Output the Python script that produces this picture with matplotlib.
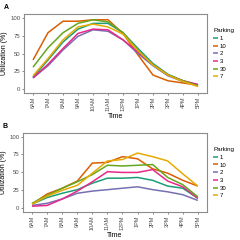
import matplotlib
matplotlib.use("Agg")
import matplotlib.pyplot as plt

times = ["6AM", "7AM", "8AM", "9AM", "10AM", "11AM", "12PM", "1PM", "2PM", "3PM", "4PM", "5PM"]
parkings = ["1", "10", "2", "3", "30", "7"]
colors = {"1": "#1B9E77", "10": "#D95F02", "2": "#7570B3", "3": "#E7298A", "30": "#66A61E", "7": "#E6AB02"}

# Panel A
a_1 = [17, 41, 66, 84, 92, 92, 79, 57, 36, 21, 12, 6]
a_10 = [41, 79, 95, 95, 97, 97, 78, 48, 20, 12, 9, 6]
a_2 = [16, 33, 55, 74, 83, 81, 69, 50, 33, 19, 11, 6]
a_3 = [16, 35, 57, 78, 84, 83, 69, 52, 34, 20, 12, 7]
a_30 = [31, 58, 79, 92, 97, 94, 79, 54, 34, 20, 12, 5]
a_7 = [19, 43, 69, 87, 91, 87, 77, 54, 34, 20, 11, 4]

# Panel B
b_1 = [6, 15, 21, 26, 35, 42, 42, 43, 39, 31, 28, 14]
b_10 = [6, 20, 28, 38, 63, 64, 72, 69, 55, 49, 39, 31]
b_2 = [4, 7, 13, 21, 24, 26, 28, 30, 26, 23, 19, 11]
b_3 = [3, 4, 13, 24, 37, 51, 50, 50, 54, 38, 30, 14]
b_30 = [7, 18, 28, 37, 47, 60, 59, 60, 61, 43, 33, 16]
b_7 = [6, 17, 25, 32, 49, 66, 68, 77, 72, 66, 48, 31]

panel_a = {"1": a_1, "10": a_10, "2": a_2, "3": a_3, "30": a_30, "7": a_7}
panel_b = {"1": b_1, "10": b_10, "2": b_2, "3": b_3, "30": b_30, "7": b_7}

plt.rcParams["font.family"] = ["Liberation Sans", "DejaVu Sans"]

fig = plt.figure(figsize=(2.4, 2.4), dpi=100)
fig.patch.set_facecolor("white")

def draw(ax, data, label, leg_y):
    x = list(range(len(times)))
    handles = []
    for p in parkings:
        h, = ax.plot(x, data[p], color=colors[p], lw=1.1, solid_capstyle="butt")
        handles.append(h)
    ax.set_xlim(-0.6, len(times) - 1 + 0.6)
    ax.set_ylim(-5, 105)
    ax.set_xticks(x)
    ax.set_xticklabels(times, rotation=90, fontsize=4, color="#4D4D4D")
    ax.set_yticks([0, 25, 50, 75, 100])
    ax.set_yticklabels(["0", "25", "50", "75", "100"], fontsize=4.3, color="#4D4D4D")
    ax.tick_params(length=1.5, width=0.4, color="#333333", pad=1.2)
    for s in ax.spines.values():
        s.set_color("#8C8C8C")
        s.set_linewidth(0.8)
    ax.set_xlabel("Time", fontsize=5, labelpad=1)
    ax.set_ylabel("Utilization (%)", fontsize=5, labelpad=1.5)
    leg = ax.legend(handles, parkings, title="Parking", loc="upper left",
                    bbox_to_anchor=(1.035, leg_y), frameon=False, fontsize=4.3,
                    title_fontsize=4.5, handlelength=0.75, handletextpad=0.35,
                    labelspacing=0.42, borderpad=0, borderaxespad=0)
    leg._legend_box.align = "left"
    fig.text(ax.get_position().x0 - 0.085, ax.get_position().y1 + 0.02, label,
             fontsize=5, fontweight="bold")

axA = fig.add_axes([0.10, 0.6125, 0.7625, 0.329])
axB = fig.add_axes([0.096, 0.117, 0.766, 0.329])
draw(axA, panel_a, "A", 0.82)
draw(axB, panel_b, "B", 0.82)

fig.savefig("out.png", dpi=100, facecolor="white")
